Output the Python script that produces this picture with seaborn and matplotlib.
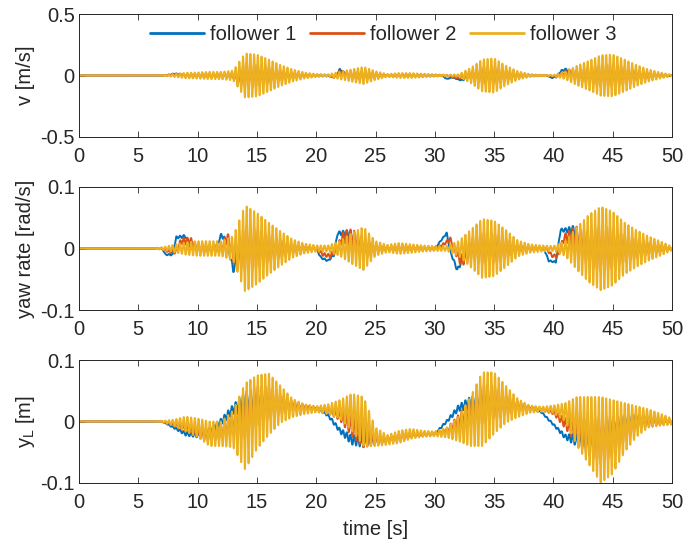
import numpy as np
import pandas as pd
import matplotlib
matplotlib.use("Agg")
import matplotlib.pyplot as plt
import seaborn as sns

# ---------------- data ----------------
FOLLOWERS = ["follower 1", "follower 2", "follower 3"]
COLORS = ["#0072BD", "#D95319", "#EDB120"]
T_END = 50.0
OSC_FREQ_HZ = 3.2          # oscillation frequency of the platoon response
AMP_SCALE = [0.25, 0.55, 1.0]  # relative oscillation amplitude of each follower

# knot times (s) for the follower-3 oscillation envelopes / centre lines
T_KNOTS = list(range(0, 51))

# ---- v [m/s] ----
V_ENV3 = [0, 0, 0, 0, 0, 0, 0, 0.003, 0.012, 0.022, 0.025, 0.03, 0.03, 0.04, 0.18, 0.17,
          0.13, 0.085, 0.05, 0.025, 0.012, 0.01, 0.03, 0.05, 0.07, 0.035, 0.012, 0.02,
          0.02, 0.015, 0.01, 0.006, 0.01, 0.06, 0.13, 0.14, 0.08, 0.035, 0.012, 0.006,
          0.005, 0.03, 0.08, 0.12, 0.165, 0.17, 0.13, 0.085, 0.05, 0.025, 0.005]
V_F1_T = [0, 7, 7.5, 8, 8.5, 9, 12.8, 13.2, 13.6, 14, 21, 21.3, 21.7, 22, 22.3, 22.7,
          23, 30.6, 31.0, 31.5, 31.9, 32.3, 32.8, 39.4, 39.9, 40.3, 40.7, 41.1, 41.6, 50]
V_F1 = [0, 0, 0, 0.015, 0.01, 0, 0, -0.02, -0.03, 0, 0, -0.015, 0, 0.05, 0.025, 0,
        0, 0, -0.028, -0.015, -0.03, -0.04, 0, 0, -0.02, 0.0, 0.04, 0.05, 0, 0]
V_F2_T = [0, 7, 8, 8.5, 9, 13, 13.5, 14, 21, 21.5, 22, 22.5, 23, 31, 31.5, 32, 32.5,
          33, 39.7, 40.2, 40.9, 41.4, 42, 50]
V_F2 = [0, 0, 0.008, 0.005, 0, 0, -0.015, 0, 0, -0.01, 0.025, 0.01, 0, 0, -0.015,
        -0.02, 0, 0, 0, -0.012, 0.02, 0.025, 0, 0]
V_F3_T = [0, 50]
V_F3 = [0, 0]

# ---- yaw rate [rad/s] ----
YAW_ENV3 = [0, 0, 0, 0, 0, 0, 0, 0.002, 0.006, 0.01, 0.012, 0.012, 0.012, 0.02, 0.07,
            0.058, 0.042, 0.028, 0.015, 0.008, 0.005, 0.005, 0.012, 0.025, 0.035, 0.012,
            0.006, 0.009, 0.007, 0.005, 0.004, 0.004, 0.012, 0.03, 0.048, 0.045, 0.03,
            0.013, 0.007, 0.005, 0.004, 0.012, 0.035, 0.055, 0.068, 0.06, 0.042, 0.03,
            0.02, 0.012, 0.003]
YAW_F1_T = [0, 7, 7.3, 7.9, 8.2, 9.0, 9.4, 10, 11.5, 12, 12.5, 13.0, 13.4, 14, 20,
            20.4, 21.0, 21.5, 21.8, 22.8, 23.2, 24, 30, 30.4, 31.0, 31.3, 31.9, 32.4,
            33, 39.2, 39.6, 40.2, 40.6, 41.7, 42.2, 43, 50]
YAW_F1 = [0, 0, -0.01, -0.01, 0.018, 0.02, 0.0, 0.0, 0.0, 0.022, 0.01, -0.035, -0.01,
          0, 0, -0.015, -0.02, -0.01, 0.025, 0.025, 0.012, 0, 0, 0.01, 0.025, -0.005,
          -0.035, -0.015, 0, 0, -0.02, -0.022, 0.03, 0.03, 0.01, 0, 0]
YAW_F2_T = [0, 7, 7.6, 8.2, 8.6, 9.4, 10, 12, 12.5, 13.2, 13.6, 14, 20, 20.6, 21.2,
            21.8, 22.2, 23, 23.5, 24, 30, 30.6, 31.3, 31.6, 32.2, 32.8, 33, 39.4, 39.9,
            40.4, 40.9, 41.9, 42.5, 43, 50]
YAW_F2 = [0, 0, -0.005, -0.005, 0.012, 0.012, 0, 0, 0.018, -0.02, -0.005, 0, 0, -0.01,
          -0.012, 0, 0.018, 0.018, 0.008, 0, 0, 0.005, 0.015, 0, -0.02, -0.008, 0, 0,
          -0.012, -0.012, 0.018, 0.018, 0.005, 0, 0]
YAW_F3_T = [0, 50]
YAW_F3 = [0, 0]

# ---- y_L [m] ----
YL_ENV3 = [0, 0, 0, 0, 0, 0, 0, 0.001, 0.005, 0.012, 0.015, 0.02, 0.02, 0.03, 0.07,
           0.06, 0.05, 0.03, 0.015, 0.008, 0.005, 0.008, 0.015, 0.03, 0.04, 0.015,
           0.008, 0.01, 0.008, 0.005, 0.004, 0.008, 0.02, 0.04, 0.06, 0.05, 0.03, 0.015,
           0.006, 0.004, 0.006, 0.015, 0.04, 0.055, 0.07, 0.06, 0.04, 0.025, 0.015, 0.01,
           0.005]
YL_F3_T = T_KNOTS
YL_F3 = [0, 0, 0, 0, 0, 0, 0, 0, -0.002, -0.004, -0.01, -0.02, -0.02, -0.012, -0.008,
         0.015, 0.028, 0.028, 0.022, 0.02, 0.02, 0.02, 0.02, 0.015, 0.0, -0.025, -0.03,
         -0.025, -0.02, -0.02, -0.02, -0.018, -0.012, 0.0, 0.02, 0.03, 0.028, 0.022,
         0.02, 0.02, 0.02, 0.015, 0.0, -0.015, -0.03, -0.025, -0.01, 0.0, 0.005, 0.003,
         0.0]
YL_F1_T = [0, 7, 8, 9, 10, 11, 12, 13, 14, 15, 20, 21, 22, 23, 24, 26, 28, 30, 31, 32,
           33, 34, 38, 39, 40, 41, 42, 43, 44, 45, 46, 47, 50]
YL_F1 = [0, 0, -0.01, -0.02, -0.022, -0.015, 0.0, 0.02, 0.03, 0.03, 0.022, 0.01,
         -0.015, -0.03, -0.032, -0.028, -0.022, -0.02, 0.0, 0.022, 0.03, 0.03, 0.022,
         0.015, -0.005, -0.025, -0.03, -0.03, -0.022, -0.01, 0.0, 0.005, 0.0]
YL_F2_T = [0, 7, 8, 9, 10, 11, 12, 13, 14, 15, 16, 20, 21, 22, 23, 24, 25, 26, 28, 30,
           31, 32, 33, 34, 35, 38, 39, 40, 41, 42, 43, 44, 45, 46, 47, 50]
YL_F2 = [0, 0, -0.005, -0.01, -0.018, -0.022, -0.017, -0.004, 0.01, 0.025, 0.03, 0.021,
         0.018, 0.01, -0.008, -0.02, -0.03, -0.03, -0.022, -0.02, -0.015, 0.0, 0.015,
         0.028, 0.03, 0.022, 0.02, 0.015, -0.003, -0.015, -0.025, -0.03, -0.025, -0.012,
         0.0, 0.0]

PANELS = [
    dict(env=V_ENV3, base=[(V_F1_T, V_F1), (V_F2_T, V_F2), (V_F3_T, V_F3)],
         ylim=(-0.5, 0.5), yticks=[-0.5, 0, 0.5], ylabel="v [m/s]"),
    dict(env=YAW_ENV3, base=[(YAW_F1_T, YAW_F1), (YAW_F2_T, YAW_F2), (YAW_F3_T, YAW_F3)],
         ylim=(-0.1, 0.1), yticks=[-0.1, 0, 0.1], ylabel="yaw rate [rad/s]"),
    dict(env=YL_ENV3, base=[(YL_F1_T, YL_F1), (YL_F2_T, YL_F2), (YL_F3_T, YL_F3)],
         ylim=(-0.1, 0.1), yticks=[-0.1, 0, 0.1], ylabel="y$_{L}$ [m]"),
]
XTICKS = list(range(0, 51, 5))

# ---------------- figure ----------------
sns.set_theme(style="white")
plt.rcParams["font.family"] = ["Liberation Sans", "DejaVu Sans"]
plt.rcParams["axes.unicode_minus"] = False
plt.rcParams["mathtext.default"] = "regular"

FS = 14.5
fig = plt.figure(figsize=(6.85, 5.44), dpi=100)
ax_rects = [
    [79 / 685, 1 - 137 / 544, 593 / 685, 123 / 544],
    [79 / 685, 1 - 310 / 544, 593 / 685, 123 / 544],
    [79 / 685, 1 - 483 / 544, 593 / 685, 123 / 544],
]

t = np.arange(0, T_END + 1e-9, 0.005)
carrier = np.sin(2 * np.pi * OSC_FREQ_HZ * t)

for i, (p, rect) in enumerate(zip(PANELS, ax_rects)):
    ax = fig.add_axes(rect)
    env = np.interp(t, T_KNOTS, p["env"])
    frames = []
    for name, (bt, bv), sc in zip(FOLLOWERS, p["base"], AMP_SCALE):
        y = np.interp(t, bt, bv) + sc * env * carrier
        frames.append(pd.DataFrame({"time": t, "value": y, "follower": name}))
    df = pd.concat(frames, ignore_index=True)
    sns.lineplot(data=df, x="time", y="value", hue="follower", hue_order=FOLLOWERS,
                 palette=COLORS, estimator=None, sort=False, linewidth=1.4,
                 legend=(i == 0), ax=ax)
    ax.set_xlim(0, 50)
    ax.set_ylim(*p["ylim"])
    ax.set_xticks(XTICKS)
    ax.set_xticklabels([str(v) for v in XTICKS])
    ax.set_yticks(p["yticks"])
    ax.set_yticklabels([("%g" % v) for v in p["yticks"]])
    ax.tick_params(axis="both", direction="in", top=True, right=True, bottom=True,
                   left=True, length=4, width=0.6, colors="#262626", labelsize=FS)
    ax.tick_params(axis="x", pad=7)
    ax.tick_params(axis="y", pad=3)
    for s in ax.spines.values():
        s.set_color("#262626")
        s.set_linewidth(0.7)
    ax.set_ylabel(p["ylabel"], fontsize=FS, color="#262626", va="center")
    ax.yaxis.set_label_coords(-0.091, 0.5)
    if i == 2:
        ax.set_xlabel("time [s]", fontsize=FS, color="#262626", va="center")
        ax.xaxis.set_label_coords(0.5, -0.382)
    else:
        ax.set_xlabel("")
    if i == 0:
        leg = ax.legend(loc="center", bbox_to_anchor=(0.513, 0.83), ncol=3,
                        frameon=False, fontsize=FS, handlelength=2.7,
                        handletextpad=0.3, columnspacing=0.65, borderpad=0.1)
        for h in leg.get_lines():
            h.set_linewidth(2.0)

fig.savefig("out.png", dpi=100)
